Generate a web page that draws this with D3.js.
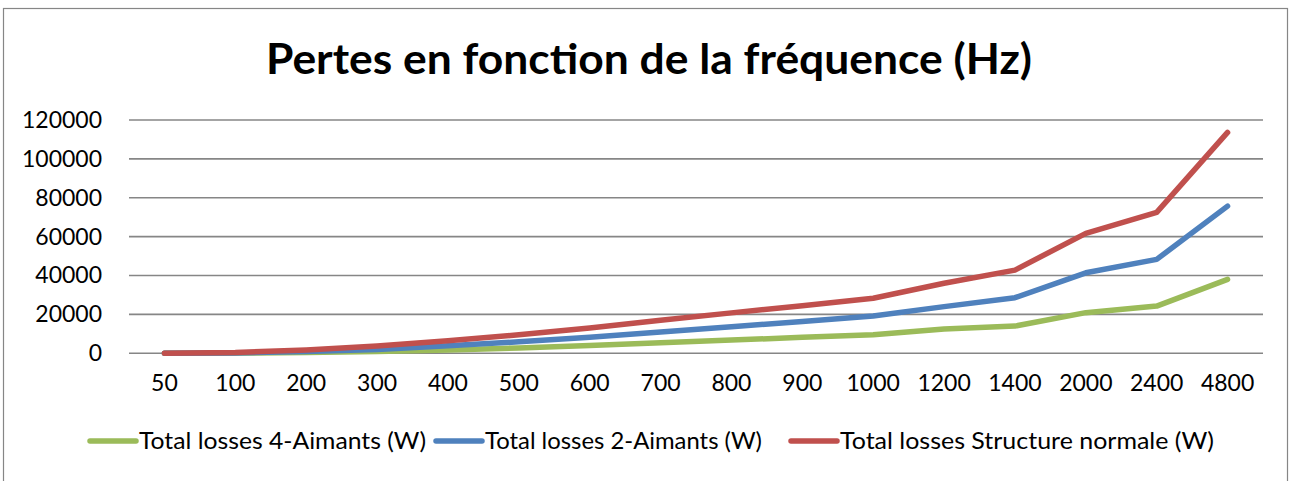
<!DOCTYPE html>
<html lang="fr">
<head>
    <meta charset="UTF-8">
    <script src="https://d3js.org/d3.v7.min.js" charset="utf-8"></script>
    <title>Pertes</title>
    <style>
        body { margin: 0; background: white; }
        svg { display: block; font-family: Lato, "Open Sans", sans-serif; }
    </style>
</head>
<body>
<div id="chart"></div>

<script>
    const width = 1290;
    const height = 481;

    // frequencies (x categories)
    const frequencies = ["50", "100", "200", "300", "400", "500", "600", "700", "800", "900",
        "1000", "1200", "1400", "2000", "2400", "4800"];

    // series values (W)
    const losses4Aimants = [0, 100, 400, 900, 1700, 2700, 4000, 5400, 6800, 8200,
        9600, 12500, 14000, 20900, 24300, 38000];
    const losses2Aimants = [0, 200, 900, 2000, 3900, 5900, 8300, 10900, 13700, 16400,
        19200, 24000, 28600, 41400, 48300, 75700];
    const lossesNormale = [0, 400, 1700, 3700, 6500, 9500, 13000, 17000, 20800, 24500,
        28300, 36000, 42800, 61700, 72500, 113600];

    const yTicks = [0, 20000, 40000, 60000, 80000, 100000, 120000];

    const seriesNames = ["Total losses 4-Aimants (W)", "Total losses 2-Aimants (W)", "Total losses Structure normale (W)"];
    const seriesColors = ["#9BBB59", "#4F81BD", "#C0504D"];

    const series = [losses4Aimants, losses2Aimants, lossesNormale].map((values, i) => ({
        name: seriesNames[i],
        color: seriesColors[i],
        values: values
    }));

    const svg = d3.select("#chart").append("svg")
        .attr("width", width)
        .attr("height", height);

    // chart border
    svg.append("rect")
        .attr("x", 3.5)
        .attr("y", 8.5)
        .attr("width", 1284)
        .attr("height", 500)
        .attr("fill", "none")
        .attr("stroke", "#868686")
        .attr("stroke-width", 1.2);

    // title
    svg.append("text")
        .attr("x", 266)
        .attr("y", 74)
        .attr("font-size", 42)
        .attr("font-weight", 700)
        .attr("textLength", 766)
        .attr("lengthAdjust", "spacingAndGlyphs")
        .text("Pertes en fonction de la fréquence (Hz)");

    const x = d3.scaleBand()
        .domain(frequencies)
        .range([129, 1263]);

    const y = d3.scaleLinear()
        .domain([0, 120000])
        .range([353.3, 120]);

    // gridlines
    svg.append("g")
        .selectAll("line")
        .data(yTicks)
        .join("line")
        .attr("x1", 129)
        .attr("x2", 1263)
        .attr("y1", d => y(d))
        .attr("y2", d => y(d))
        .attr("stroke", "#868686")
        .attr("stroke-width", 1.6);

    // y axis labels
    const yAxis = svg.append("g")
        .attr("transform", "translate(114,0)")
        .call(d3.axisLeft(y).tickValues(yTicks).tickSize(0).tickPadding(12).tickFormat(d3.format("d")));
    yAxis.select(".domain").remove();
    yAxis.selectAll("text")
        .attr("font-family", "Lato, sans-serif")
        .attr("font-size", 23)
        .attr("fill", "#000");

    // x axis labels
    const xAxis = svg.append("g")
        .attr("transform", "translate(0,353.3)")
        .call(d3.axisBottom(x).tickSize(0).tickPadding(21));
    xAxis.select(".domain").remove();
    xAxis.selectAll("text")
        .attr("font-family", "Lato, sans-serif")
        .attr("font-size", 23)
        .attr("fill", "#000");

    // lines
    const line = d3.line()
        .x((d, i) => x(frequencies[i]) + x.bandwidth() / 2)
        .y(d => y(d));

    svg.append("g")
        .selectAll("path")
        .data(series)
        .join("path")
        .attr("d", d => line(d.values))
        .attr("fill", "none")
        .attr("stroke", d => d.color)
        .attr("stroke-width", 5.5)
        .attr("stroke-linecap", "round")
        .attr("stroke-linejoin", "round");

    // legend
    const legendStarts = [88, 434, 789];
    const legendTextWidths = [287, 277, 374];
    const legend = svg.append("g")
        .selectAll("g")
        .data(series)
        .join("g")
        .attr("transform", (d, i) => `translate(${legendStarts[i]},441)`);

    legend.append("line")
        .attr("x1", 2)
        .attr("x2", 48)
        .attr("stroke", d => d.color)
        .attr("stroke-width", 5.5)
        .attr("stroke-linecap", "round");

    legend.append("text")
        .attr("x", 51)
        .attr("dy", "0.35em")
        .attr("font-size", 23.5)
        .attr("textLength", (d, i) => legendTextWidths[i])
        .attr("lengthAdjust", "spacingAndGlyphs")
        .text(d => d.name);
</script>
</body>
</html>
